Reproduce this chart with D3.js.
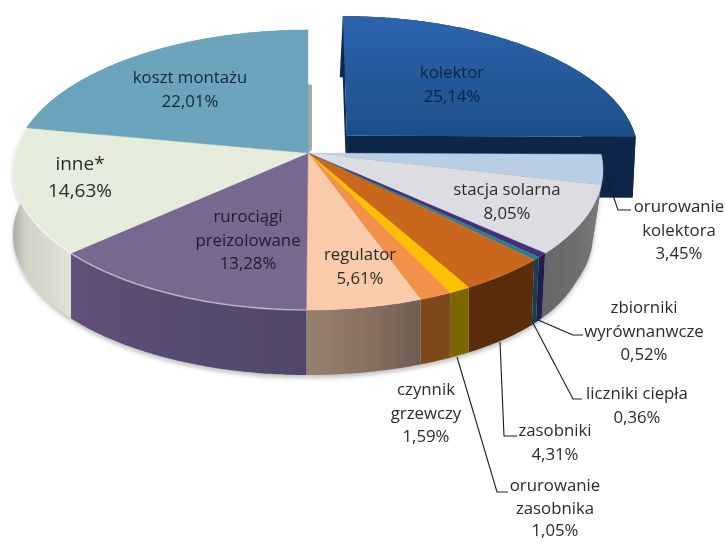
<!DOCTYPE html>
<html><head><meta charset="utf-8">
<script src="https://cdnjs.cloudflare.com/ajax/libs/d3/7.8.5/d3.min.js"></script>
<style>html,body{margin:0;padding:0;background:#fff}svg{display:block}</style>
</head><body><div id="chart"></div>
<script>
const categories = ["kolektor","orurowanie kolektora","stacja solarna","zbiorniki wyrównanwcze","liczniki ciepła","zasobniki","orurowanie zasobnika","czynnik grzewczy","regulator","rurociągi preizolowane","inne*","koszt montażu"];
const values = [25.14,3.45,8.05,0.52,0.36,4.31,1.05,1.59,5.61,13.28,14.63,22.01];
const valueLabels = ["25,14%","3,45%","8,05%","0,52%","0,36%","4,31%","1,05%","1,59%","5,61%","13,28%","14,63%","22,01%"];
const topColors = ["#24589a","#b9cde4","#dcdde0","#43327c","#2f7f8e","#c9681c","#ffc000","#f2914a","#f9cbaa","#78688f","#e6ecdc","#6ca4be"];
const wallColors = ["#0f2748","#5d6f85","#707070","#241c50","#123f50","#5a2e0a","#7d6500","#80491f","#8c7362","#574a6e","#cdd3c5","#4f7a8e"];

const W = 726, H = 543, depth = 65, explodedDepth = 61;
const perspective = -0.121, explodeX = 0.135, explodeY = 0.128;
const sx = d3.scaleLinear().domain([-1,1]).range([13,603]);
const sy = d3.scaleLinear().domain([-1,1]).range([30,310]);
const project = (u,v) => {
  const k = 1 + perspective * v;
  return [sx(u * Math.sqrt(1 - perspective*perspective) / k), sy((v + perspective) / k)];
};
const pieGen = d3.pie().sort(null).value(d => d);
const slices = pieGen(values).map((s,i)=>({...s,i}));
const line = d3.line();
const off = s => s.i === 0 ? [explodeX,-explodeY] : [0,0];
const pt = (s,a,r=1) => { const o=off(s); return project(r*Math.sin(a)+o[0], -r*Math.cos(a)+o[1]); };
const rim = s => {
  const n = Math.max(2, Math.ceil((s.endAngle-s.startAngle)/0.01));
  return d3.range(n+1).map(j => pt(s, s.startAngle+(s.endAngle-s.startAngle)*j/n));
};
const topPath = s => line([pt(s,0,0), ...rim(s)])+"Z";
// the bottom edge pulls inward only near the far right of the main disc
const under = (p,d) => [p[0]-Math.min(10, 12*Math.pow(Math.max(0,p[0]-450)/145,3)), p[1]+d];
const wallPath = s => { const r=rim(s); return line([...r, ...r.slice().reverse().map(p=>under(p,depth))])+"Z"; };
const kolWall = s => { const r=rim(s); return line([...r, ...r.slice().reverse().map(p=>[p[0]-3,p[1]+explodedDepth])])+"Z"; };

const svg = d3.select("#chart").append("svg").attr("width",W).attr("height",H);
const defs = svg.append("defs");
const blur = (id,dev)=>defs.append("filter").attr("id",id).attr("x","-10%").attr("y","-10%").attr("width","120%").attr("height","130%")
  .append("feGaussianBlur").attr("stdDeviation",dev);
blur("soft",0.55); blur("shadow",2.2); blur("textsoft",0.3);
const grad = (id,x1,y1,x2,y2,stops)=>{
  const g=defs.append("linearGradient").attr("id",id).attr("gradientUnits","userSpaceOnUse")
    .attr("x1",x1).attr("y1",y1).attr("x2",x2).attr("y2",y2);
  stops.forEach(([o,c])=>g.append("stop").attr("offset",o).attr("stop-color",c));
};
grad("gTop0",0,15,0,135,[[0,"#2b65ad"],[1,"#1e4f89"]]);
grad("gW2",535,0,600,0,[[0,"#646566"],[0.7,"#6f7071"],[1,"#7a7a7a"]]);
grad("gW8",308,0,420,0,[[0,"#97806e"],[0.5,"#8b7363"],[1,"#6f5d52"]]);
grad("gW9",72,0,308,0,[[0,"#5f5177"],[1,"#51456a"]]);
grad("gW10",13,0,72,0,[[0,"#a9ada4"],[0.2,"#cdd2c5"],[1,"#dfe4d6"]]);
const fillTop = s => s.i===0 ? "url(#gTop0)" : topColors[s.i];
const fillWall = s => ({2:"url(#gW2)",8:"url(#gW8)",9:"url(#gW9)",10:"url(#gW10)"})[s.i] || wallColors[s.i];

const art = svg.append("g").attr("filter","url(#soft)");
const main = slices.filter(s=>s.i!==0), kol = slices[0];

// soft shadow beneath the pie
art.append("g").attr("filter","url(#shadow)").attr("opacity",0.4).selectAll("path")
  .data(main.filter(s=>s.i>=2 && s.i<=10)).join("path")
  .attr("d",wallPath).attr("transform","translate(0,3)").attr("fill","#666");

// exploded slice: cut face, outer wall, top
const kv = pt(kol,0,0), kr = pt(kol,0);
art.append("path").attr("d",line([kr,kv,[kv[0],kv[1]+explodedDepth],[kr[0],kr[1]+explodedDepth]])+"Z").attr("fill","#10294c");
const kEnd = pt(kol,kol.endAngle);
art.append("path").attr("d",line([kv,kEnd,[kEnd[0]-3,kEnd[1]+explodedDepth],[kv[0],kv[1]+explodedDepth]])+"Z").attr("fill",wallColors[0]);
art.append("path").attr("d",kolWall(kol)).attr("fill",wallColors[0]);
art.append("path").attr("d",topPath(kol)).attr("fill",fillTop(kol));

// cut face showing behind "koszt montażu"
const mc = project(0,0), mr = project(0,-1);
art.append("path").attr("d",line([[mr[0],mr[1]+54],[mr[0]+4,mr[1]+55],[mc[0]+4,mc[1]-3],mc])+"Z").attr("fill","#a3a8ab");

// main pie
art.append("g").selectAll("path").data(main).join("path")
  .attr("d",wallPath).attr("fill",fillWall);
art.append("g").selectAll("path").data(main).join("path")
  .attr("d",topPath).attr("fill",fillTop).attr("stroke",fillTop).attr("stroke-width",0.4);
// bevel highlight on the front rim
art.append("g").selectAll("path").data(main.filter(s=>s.i===9||s.i===10)).join("path")
  .attr("d",s=>line(rim(s))).attr("fill","none").attr("stroke","#fff").attr("stroke-opacity",0.45).attr("stroke-width",1.6);

// leader lines
const leaders = {
  1:[[605,172],[618,210],[631,210]],
  3:[[538,320],[573,335],[583,335]],
  4:[[533,323],[573,399],[582,399]],
  5:[[500,342],[504,436],[517,436]],
  6:[[457,357],[497,492],[508,492]]
};
svg.append("g").selectAll("path").data(Object.values(leaders)).join("path")
  .attr("d",d=>line(d)).attr("fill","none").attr("stroke","#1c1c1c").attr("stroke-width",1.1);

// labels
const labelLines = {
  0:["kolektor"],1:["orurowanie","kolektora"],2:["stacja solarna"],3:["zbiorniki","wyrównanwcze"],
  4:["liczniki ciepła"],5:["zasobniki"],6:["orurowanie","zasobnika"],7:["czynnik","grzewczy"],
  8:["regulator"],9:["rurociągi","preizolowane"],10:["inne*"],11:["koszt montażu"]
};
const labelAnchor = {0:[452,78],1:[679,212],2:[507,195],3:[644,313],4:[637,399],5:[555,436],6:[555,491],7:[426,395],8:[360,260],9:[248,222],10:[80,170],11:[190,83]};
const lineGap = {10:27,6:22.5};
const labelColor = {0:"#0e2544",11:"#12283c",9:"#201a33"};
const labels = svg.append("g").attr("font-family","'Open Sans', 'Noto Sans', sans-serif").attr("text-anchor","middle").attr("filter","url(#textsoft)");
categories.forEach((c,i)=>{
  const lines=[...labelLines[i],valueLabels[i]], gap=lineGap[i]||23.5, a=labelAnchor[i];
  const t=labels.append("text").attr("font-size",i===10?19:16.8).attr("fill",labelColor[i]||"#2b2b2b");
  lines.forEach((l,j)=>t.append("tspan").attr("x",a[0]).attr("y",a[1]+j*gap).text(l));
});
</script></body></html>
